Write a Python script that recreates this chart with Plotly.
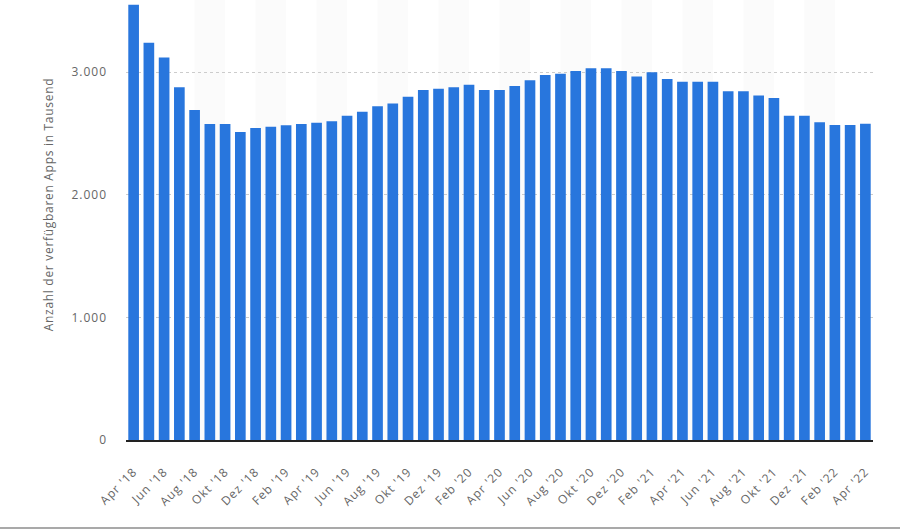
import plotly.graph_objects as go

months = ["Apr", "Mai", "Jun", "Jul", "Aug", "Sep", "Okt", "Nov", "Dez", "Jan", "Feb", "Mär"]
categories = []
y, m = 18, 0
for i in range(49):
    categories.append(f"{months[m]} '{y}")
    m = (m + 1) % 12
    if months[m] == "Jan":
        y += 1

values = [3551, 3241, 3121, 2877, 2692, 2577, 2577, 2512, 2545, 2556,
          2567, 2577, 2588, 2599, 2645, 2678, 2722, 2744, 2800, 2855,
          2866, 2877, 2898, 2855, 2855, 2887, 2934, 2977, 2988, 3010,
          3032, 3032, 3010, 2966, 2999, 2945, 2923, 2923, 2923, 2844,
          2844, 2811, 2790, 2645, 2645, 2591, 2569, 2569, 2580]

tick_labels = categories[::2]
y_ticks = [0, 1000, 2000, 3000]
y_tick_text = ["0", "1.000", "2.000", "3.000"]
y_title = "Anzahl der verfügbaren Apps in Tausend"

fig = go.Figure()
fig.add_trace(go.Bar(x=list(range(len(values))), y=values, marker_color="#2876dd",
                     marker_line_width=0, hovertext=categories))

shapes = []
for j in range(1, 12):
    shapes.append(dict(type="rect", xref="x", yref="paper", x0=4 * j, x1=4 * j + 2,
                       y0=0, y1=1, fillcolor="#fbfbfb", line_width=0, layer="below"))
# bottom page border
shapes.append(dict(type="line", xref="paper", yref="paper",
                   x0=-126 / 747, x1=1 + 27 / 747, y0=-88 / 440, y1=-88 / 440,
                   line=dict(color="#8c8c8c", width=1.5)))

font_family = "Open Sans, DejaVu Sans, sans-serif"
fig.update_layout(
    width=900, height=530,
    margin=dict(l=126, r=27, t=0, b=90),
    paper_bgcolor="white", plot_bgcolor="white",
    bargap=0.3,
    showlegend=False,
    shapes=shapes,
    font=dict(family=font_family, color="#666666", size=12),
    annotations=[dict(text=y_title, textangle=-90, xref="paper", yref="paper",
                      x=-78 / 747, y=(440 - 205) / 440, xanchor="center", yanchor="middle",
                      showarrow=False, font=dict(size=12, color="#666666"))],
    xaxis=dict(
        tickmode="array",
        tickvals=list(range(0, len(values), 2)),
        ticktext=tick_labels,
        tickangle=-45,
        range=[-0.5, len(values) - 0.5],
        showgrid=False,
        showline=True, linecolor="#222222", linewidth=2,
        ticks="", ticklabelstandoff=18,
        tickfont=dict(size=12, color="#666666"),
        zeroline=False,
    ),
    yaxis=dict(
        range=[0, 3589],
        tickmode="array", tickvals=y_ticks, ticktext=y_tick_text,
        showgrid=True, gridcolor="#cccccc", griddash="dot", gridwidth=1,
        zeroline=False, showline=False, ticks="",
        ticklabelstandoff=18,
        tickfont=dict(size=12, color="#666666"),
    ),
)

post = """
var gd = document.getElementsByClassName('plotly-graph-div')[0];
function spacing(){
  gd.querySelectorAll('.xtick text, .ytick text').forEach(function(e){e.style.letterSpacing='1px';});
  gd.querySelectorAll('.annotation-text').forEach(function(e){e.style.letterSpacing='0.7px';});
}
spacing();
gd.on('plotly_afterplot', spacing);
"""

fig.write_html("out.html", post_script=post)
